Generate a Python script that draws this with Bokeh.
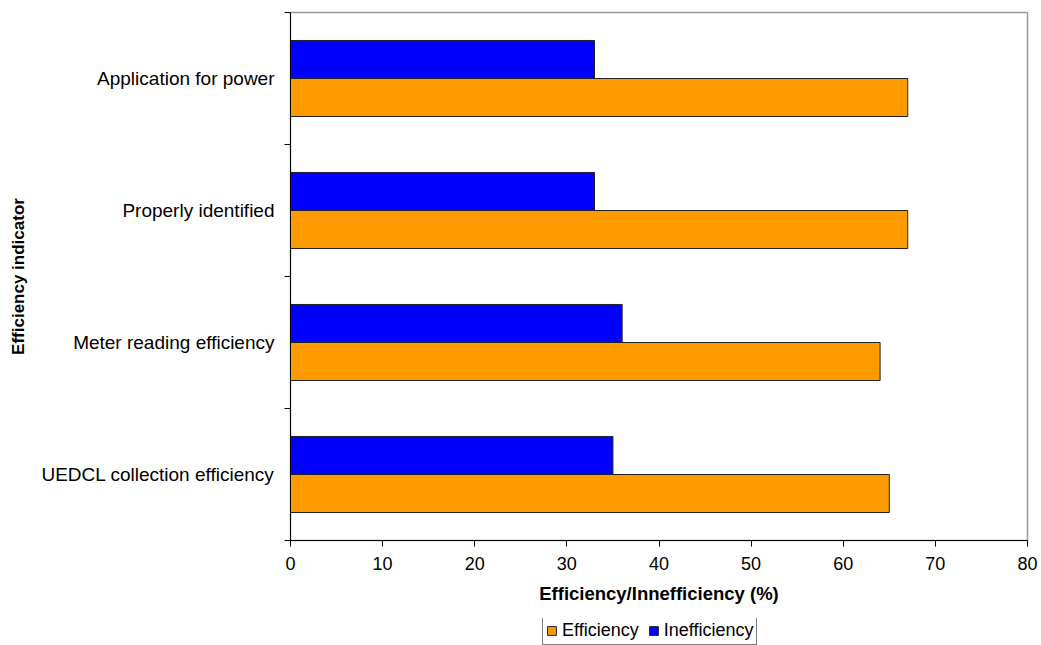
from bokeh.plotting import figure
from bokeh.layouts import column
from bokeh.models import (ColumnDataSource, Range1d, FixedTicker, Legend, LegendItem)
from bokeh.transform import dodge
from bokeh.embed import file_html
from bokeh.resources import INLINE

# Efficiency indicators, listed top to bottom
categories = [
    "Application for power",
    "Properly identified",
    "Meter reading efficiency",
    "UEDCL collection efficiency",
]
efficiency = [67, 67, 64, 65]
inefficiency = [33, 33, 36, 35]
x_ticks = [0, 10, 20, 30, 40, 50, 60, 70, 80]

FONT = "Liberation Sans"
BAR_H = 0.288
EFF_COLOR = "#FF9900"
INEFF_COLOR = "#0000FF"
EDGE = "#222222"

centers = [i + 0.5 for i in range(len(categories))]
src = ColumnDataSource(dict(pos=centers, eff=efficiency, ineff=inefficiency, cat=categories))

p = figure(frame_width=737, frame_height=528, output_backend="svg", toolbar_location=None,
           x_range=Range1d(0, 80), y_range=Range1d(len(categories), 0),
           min_border_left=290, min_border_right=14, min_border_top=12,
           min_border_bottom=78)

p.hbar(y=dodge("pos", -BAR_H / 2), right="ineff", left=0, height=BAR_H,
       source=src, fill_color=INEFF_COLOR, line_color=EDGE, line_width=1)
p.hbar(y=dodge("pos", BAR_H / 2), right="eff", left=0, height=BAR_H,
       source=src, fill_color=EFF_COLOR, line_color=EDGE, line_width=1)

p.xgrid.visible = False
p.ygrid.visible = False
p.outline_line_color = "#9a9a9a"
p.outline_line_width = 1.5
p.background_fill_color = "white"
p.border_fill_color = "white"

# x axis
xa = p.xaxis[0]
xa.ticker = FixedTicker(ticks=x_ticks)
xa.axis_line_color = "black"
xa.major_tick_line_color = "black"
xa.major_tick_out = 6
xa.major_tick_in = 0
xa.minor_tick_line_color = None
xa.major_label_text_font = FONT
xa.major_label_text_font_size = "18px"
xa.major_label_text_color = "black"
xa.major_label_standoff = 10
xa.axis_label = "Efficiency/Innefficiency (%)"
xa.axis_label_text_font = FONT
xa.axis_label_text_font_style = "bold"
xa.axis_label_text_font_size = "18.5px"
xa.axis_label_text_color = "black"
xa.axis_label_standoff = 10

# y axis: labels at band centres, tick marks at band boundaries
ya = p.yaxis[0]
ya.ticker = FixedTicker(ticks=centers, minor_ticks=list(range(len(categories) + 1)))
ya.major_label_overrides = {c: lab for c, lab in zip(centers, categories)}
ya.axis_line_color = "black"
ya.major_tick_line_color = None
ya.major_tick_out = 0
ya.major_tick_in = 0
ya.minor_tick_line_color = "black"
ya.minor_tick_out = 6
ya.minor_tick_in = 0
ya.major_label_text_font = FONT
ya.major_label_text_font_size = "19px"
ya.major_label_text_color = "black"
ya.major_label_standoff = 10
ya.axis_label = "Efficiency indicator"
ya.axis_label_text_font = FONT
ya.axis_label_text_font_style = "bold"
ya.axis_label_text_font_size = "17px"
ya.axis_label_text_color = "black"
ya.axis_label_standoff = 10

# legend strip underneath the chart (its frame lines up with the chart's frame)
leg_fig = figure(width=1041, height=27, output_backend="svg", toolbar_location=None,
                 x_range=Range1d(0, 1), y_range=Range1d(0, 1),
                 x_axis_location=None, y_axis_location=None, min_border=0)
leg_fig.grid.visible = False
leg_fig.outline_line_color = None
leg_fig.background_fill_color = "white"
leg_fig.border_fill_color = "white"
# swatch renderers sit outside the visible range; only their legend entries show
swatch_src = ColumnDataSource(dict(y=[-10], right=[1]))
sw_eff = leg_fig.hbar(y="y", right="right", left=0, height=1, source=swatch_src,
                      fill_color=EFF_COLOR, line_color=EDGE, line_width=1)
sw_ineff = leg_fig.hbar(y="y", right="right", left=0, height=1, source=swatch_src,
                        fill_color=INEFF_COLOR, line_color=EDGE, line_width=1)

legend = Legend(items=[LegendItem(label="Efficiency", renderers=[sw_eff]),
                       LegendItem(label="Inefficiency", renderers=[sw_ineff])],
                orientation="horizontal", location=(252, 0))
legend.label_text_font = FONT
legend.label_text_font_size = "18px"
legend.label_text_color = "black"
legend.border_line_color = "black"
legend.border_line_width = 1
legend.background_fill_alpha = 1
legend.glyph_width = 11
legend.glyph_height = 11
legend.label_height = 18
legend.padding = 3
legend.spacing = 9
legend.label_standoff = 5
legend.margin = 0
leg_fig.add_layout(legend, "center")

open("out.html", "w").write(file_html(column(p, leg_fig, spacing=0), INLINE))
